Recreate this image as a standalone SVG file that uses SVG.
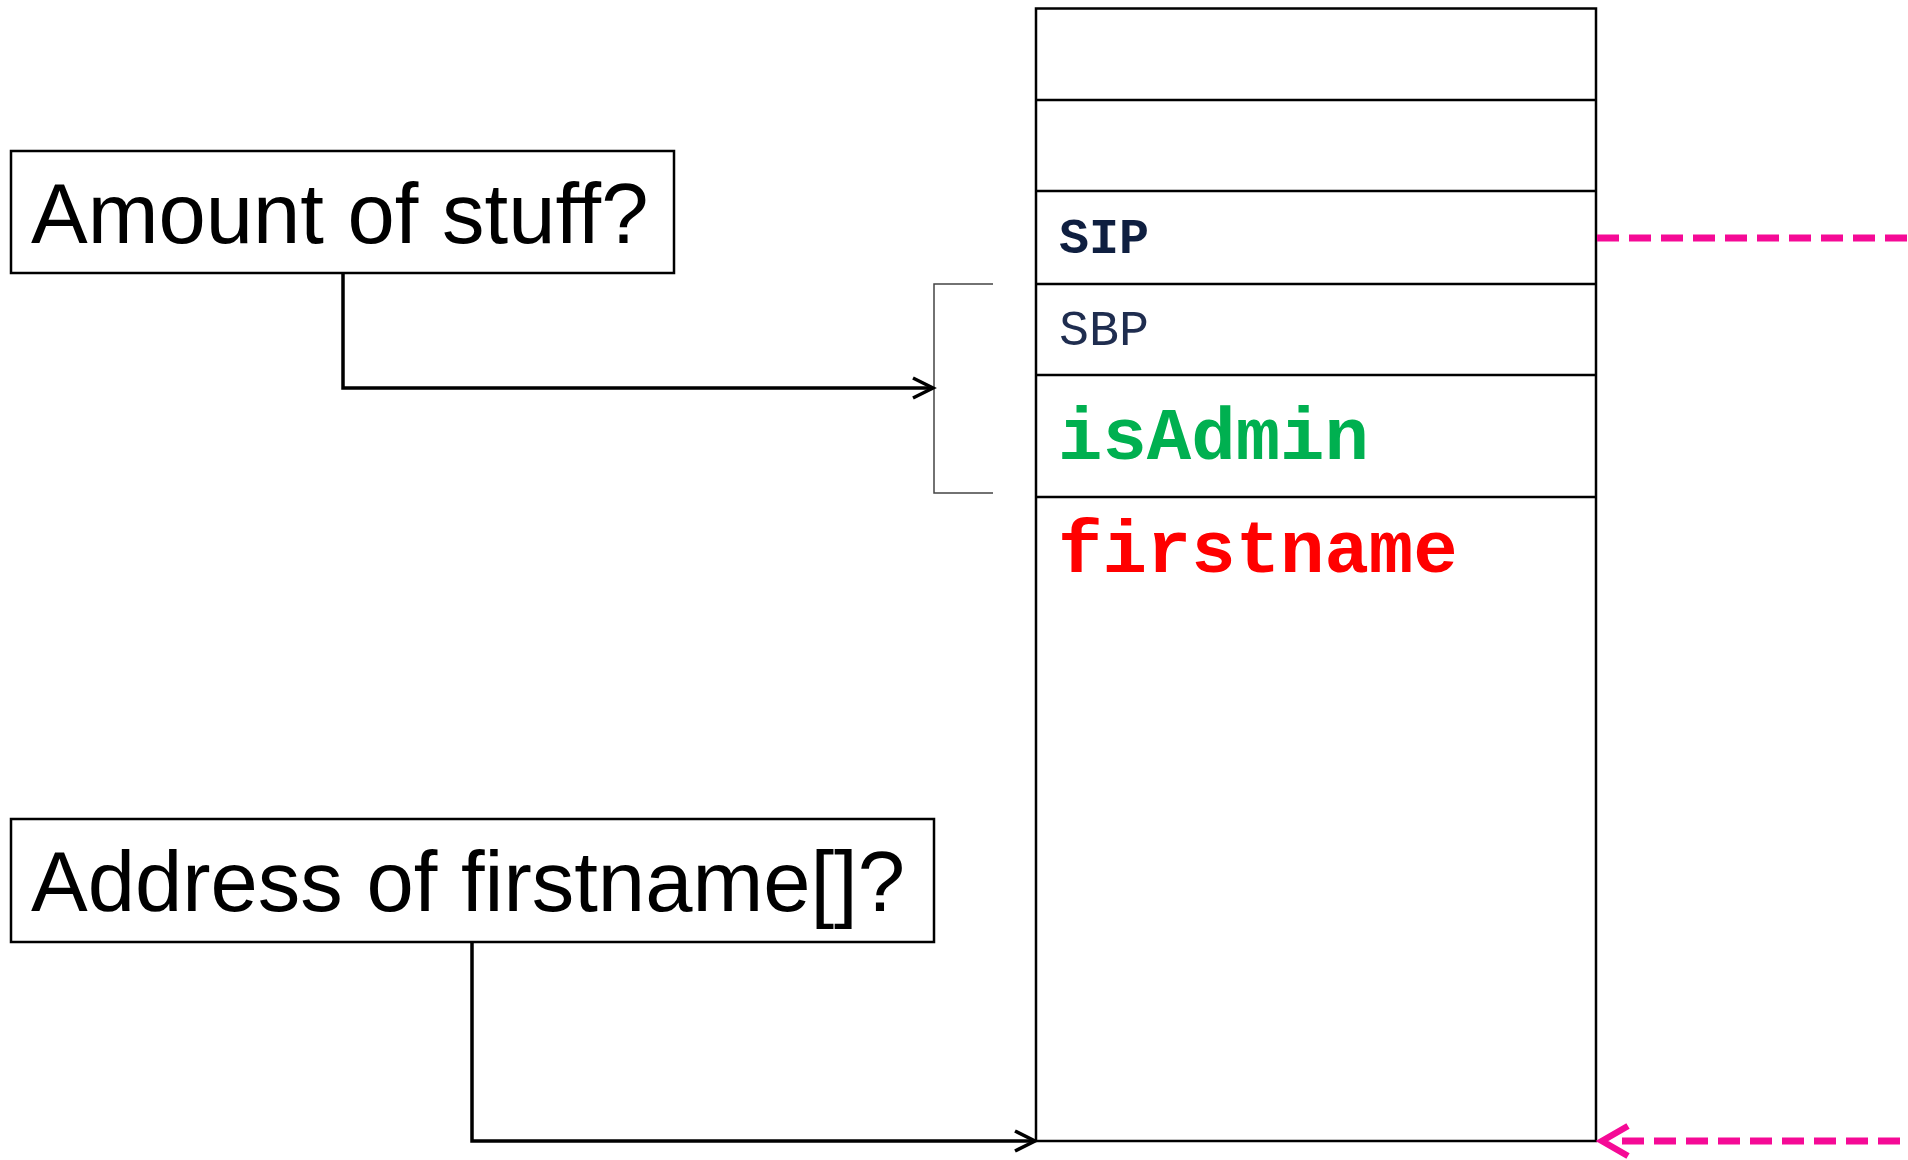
<svg xmlns="http://www.w3.org/2000/svg" width="1908" height="1160" viewBox="0 0 1908 1160">
<style>
.box{fill:#fff;stroke:#000;stroke-width:2.5}
.cell{fill:none;stroke:#000;stroke-width:2.5}
.q{font-family:"Liberation Sans",Arial,sans-serif;font-size:85px;fill:#000}
.mono{font-family:"Liberation Mono","Courier New",monospace}
.conn{fill:none;stroke:#000;stroke-width:3.5}
.pink{fill:none;stroke:#f50a96;stroke-width:7;stroke-dasharray:22 10}
</style>
<defs>
<marker id="arr" markerUnits="userSpaceOnUse" markerWidth="30" markerHeight="30" refX="26" refY="15" orient="auto">
<path d="M6,5 L26,15 L6,25" fill="none" stroke="#000" stroke-width="3.5"/>
</marker>
<marker id="parr" markerUnits="userSpaceOnUse" markerWidth="40" markerHeight="40" refX="34" refY="20" orient="auto">
<path d="M8,5 L34,20 L8,35" fill="none" stroke="#f50a96" stroke-width="6.5"/>
</marker>
</defs>
<rect width="1908" height="1160" fill="#fff"/>

<g id="stack">
<rect class="cell" x="1036" y="8.5" width="560" height="1132.5"/>
<line class="cell" x1="1036" y1="100" x2="1596" y2="100"/>
<line class="cell" x1="1036" y1="191" x2="1596" y2="191"/>
<line class="cell" x1="1036" y1="284" x2="1596" y2="284"/>
<line class="cell" x1="1036" y1="375" x2="1596" y2="375"/>
<line class="cell" x1="1036" y1="497" x2="1596" y2="497"/>
<text class="mono" x="1059" y="253" font-size="50" font-weight="bold" fill="#0f1f40">SIP</text>
<text class="mono" x="1059" y="345" font-size="50" fill="#1f2d4f">SBP</text>
<text class="mono" x="1058" y="459" font-size="74" font-weight="bold" fill="#00b050">isAdmin</text>
<text class="mono" x="1058" y="572" font-size="74" font-weight="bold" fill="#ff0000">firstname</text>
</g>

<g id="bracket">
<path d="M993,284 L934,284 L934,493 L993,493" fill="none" stroke="#444" stroke-width="1.5"/>
</g>

<g id="q1">
<rect class="box" x="11" y="151" width="663" height="122"/>
<text class="q" x="31" y="243">Amount of stuff?</text>
</g>

<g id="q2">
<rect class="box" x="11" y="819" width="923" height="123"/>
<text class="q" x="31" y="911">Address of firstname[]?</text>
</g>

<g id="connectors">
<path class="conn" d="M343,273 L343,388 L933,388" marker-end="url(#arr)"/>
<path class="conn" d="M472,942 L472,1141 L1035,1141" marker-end="url(#arr)"/>
<line class="pink" x1="1597" y1="238" x2="1908" y2="238"/>
<path d="M1908,1141 L1602,1141" fill="none" stroke="none" marker-end="url(#parr)"/>
<line class="pink" x1="1622" y1="1141" x2="1908" y2="1141"/>
</g>
</svg>
